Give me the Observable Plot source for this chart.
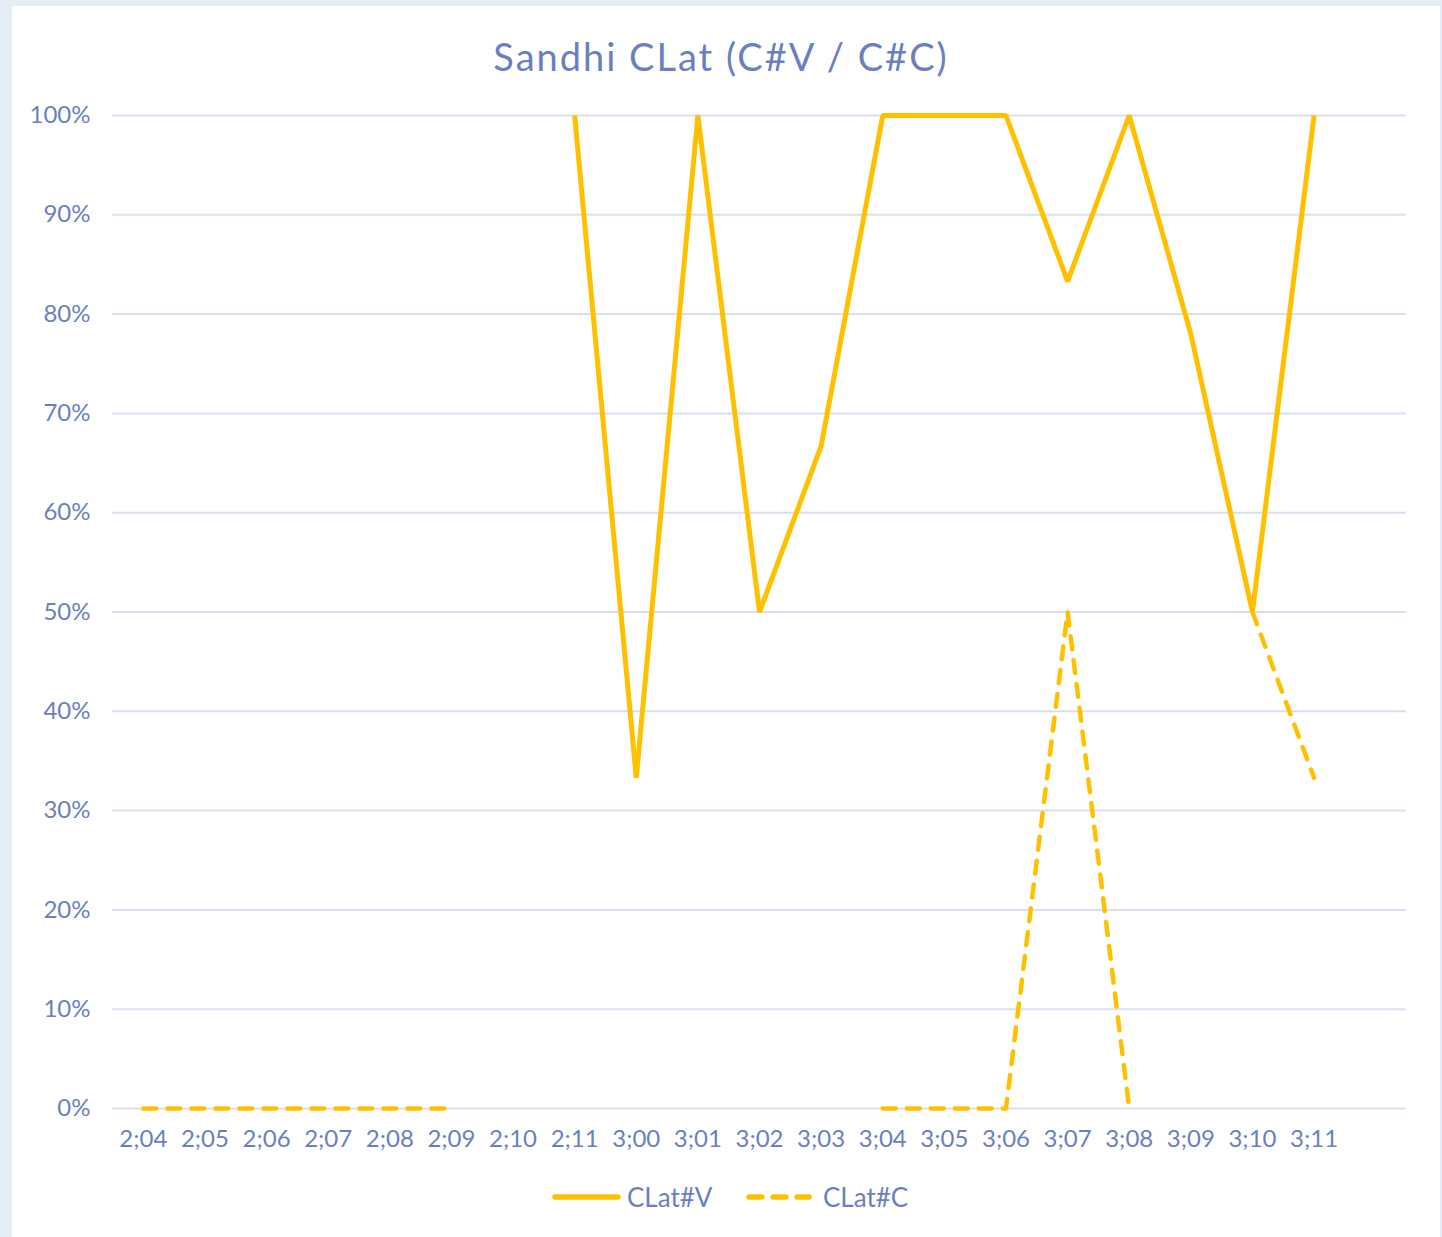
<!DOCTYPE html>
<html>
<head>
<meta charset="utf-8">
<script src="https://cdn.jsdelivr.net/npm/d3@7"></script>
<script src="https://cdn.jsdelivr.net/npm/@observablehq/plot@0.6"></script>
<style>
  html, body { margin: 0; padding: 0; background: #e4ecf6; }
  #page { position: relative; width: 1442px; height: 1237px; overflow: hidden; }
  #panel { position: absolute; left: 12px; top: 6px; width: 1428px; height: 1240px; background: #ffffff; }
  #chart { position: absolute; left: 0; top: 0; }
  #title { position: absolute; left: 0; width: 1442px; top: 33px; text-align: center;
           font-family: Lato, sans-serif; font-size: 38px; color: #6b7fc0; letter-spacing: 2px; }
  #legend { position: absolute; top: 1181px; left: 0; width: 1442px; font-family: Lato, sans-serif;
            font-size: 26px; color: #6b7fc0; }
  .item { position: absolute; display: flex; align-items: center; }
  .item svg { margin-right: 5px; }
</style>
</head>
<body>
<div id="page">
  <div id="panel"></div>
  <div id="chart"></div>
  <div id="title">Sandhi CLat (C#V / C#C)</div>
  <div id="legend"></div>
</div>
<script>
const categories = ["2;04","2;05","2;06","2;07","2;08","2;09","2;10","2;11",
                    "3;00","3;01","3;02","3;03","3;04","3;05","3;06","3;07","3;08","3;09","3;10","3;11"];
const clatV = [null,null,null,null,null,null,null,1.00,
               0.333,1.00,0.50,0.667,1.00,1.00,1.00,0.833,1.00,0.78,0.50,1.00];
const clatC = [0,0,0,0,0,0,null,null,
               null,null,null,null,0,0,0,0.50,0,null,0.50,0.333];
const seriesNames = ["CLat#V", "CLat#C"];
const yTicks = [0,0.1,0.2,0.3,0.4,0.5,0.6,0.7,0.8,0.9,1.0];

const color = "#ffc000";
const textColor = "#6b7fc0";
const dash = "13,11";

const dataV = categories.map((c, i) => ({cat: c, v: clatV[i] == null ? NaN : clatV[i]}));
const dataC = categories.map((c, i) => ({cat: c, v: clatC[i] == null ? NaN : clatC[i]}));

const chart = Plot.plot({
  width: 1442,
  height: 1237,
  marginLeft: 112,
  marginRight: 36,
  marginTop: 115,
  marginBottom: 129,
  style: {background: "transparent", fontFamily: "Lato, sans-serif", fontSize: "24px", color: textColor},
  x: {type: "band", domain: [...categories, ""], padding: 0, round: false, tickSize: 0, tickPadding: 21, label: null},
  y: {domain: [0, 1], ticks: yTicks, tickSize: 0, tickPadding: 22, label: null,
      tickFormat: d => Math.round(d * 100) + "%"},
  marks: [
    Plot.ruleY(yTicks, {stroke: "#d9dff0", strokeWidth: 2}),
    Plot.line(dataV, {x: "cat", y: "v", stroke: color, strokeWidth: 5, strokeLinejoin: "miter", strokeLinecap: "butt"}),
    Plot.line(dataC, {x: "cat", y: "v", stroke: color, strokeWidth: 4.5, strokeDasharray: dash, strokeLinecap: "round"})
  ]
});
document.getElementById("chart").appendChild(chart);

// legend
const legend = document.getElementById("legend");
const positions = [552, 746];
seriesNames.forEach((name, i) => {
  const item = document.createElement("div");
  item.className = "item";
  item.style.left = positions[i] + "px";
  const w = i === 1 ? 72 : 70;
  const sw = d3.create("svg").attr("width", w).attr("height", 30);
  sw.append("line").attr("x1", 3).attr("x2", i === 1 ? 63 : 66).attr("y1", 15).attr("y2", 15)
    .attr("stroke", color).attr("stroke-width", 5.5).attr("stroke-linecap", "round")
    .attr("stroke-dasharray", i === 1 ? "13,11" : null);
  item.appendChild(sw.node());
  const t = document.createElement("span");
  t.textContent = name;
  item.appendChild(t);
  legend.appendChild(item);
});
</script>
</body>
</html>
